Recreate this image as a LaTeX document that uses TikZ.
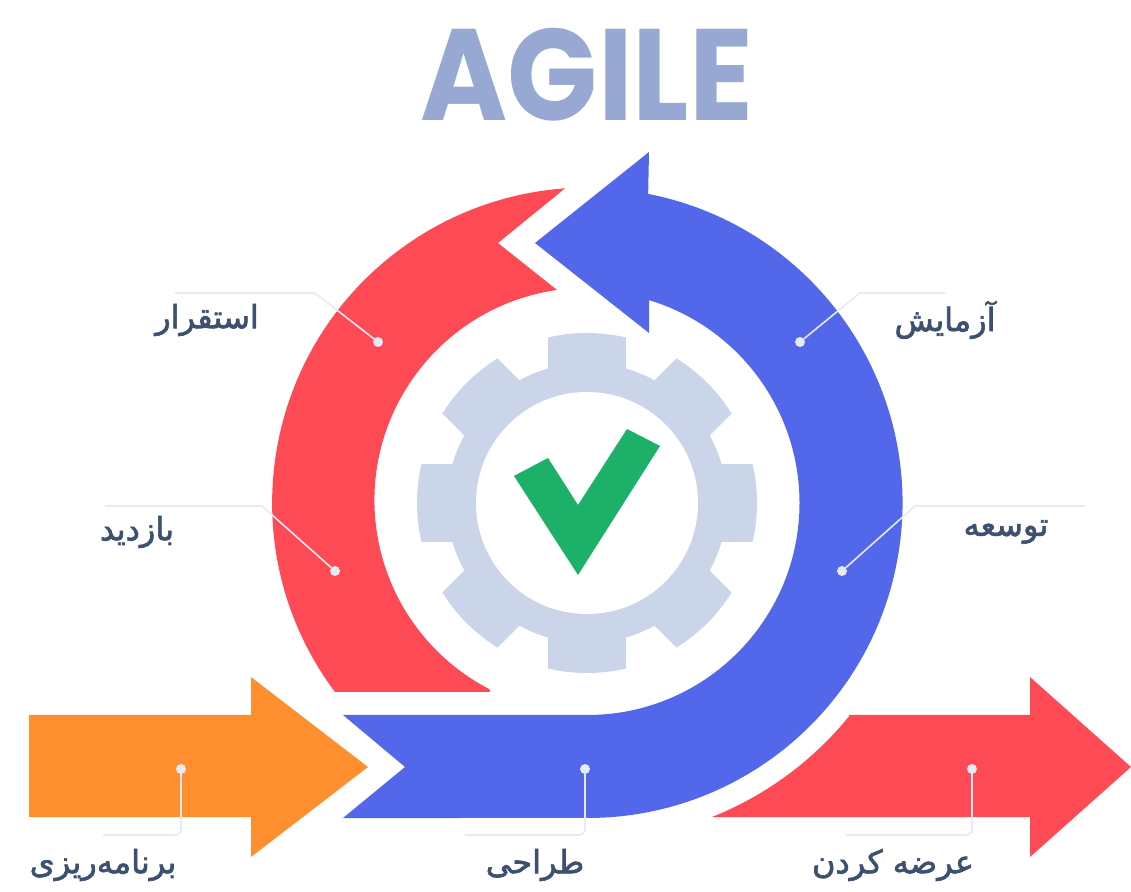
\documentclass[tikz,border=0pt]{standalone}
\usepackage{fontspec}
\newfontfamily\labelfont[Script=Arabic,FakeBold=2]{DejaVu Sans}
\newfontfamily\titlefont{Poppins}
\TeXXeTstate=1
\definecolor{loopred}{HTML}{FD4A55}
\definecolor{loopblue}{HTML}{5367EA}
\definecolor{startorange}{HTML}{FF8F2E}
\definecolor{gearblue}{HTML}{CBD5EA}
\definecolor{titleblue}{HTML}{97A8D2}
\definecolor{checkgreen}{HTML}{1DB068}
\definecolor{labelblue}{HTML}{3C5070}
\definecolor{leadergray}{HTML}{E6EAF4}
\tikzset{
	dot/.style={draw=none,circle,fill=leadergray,inner sep=0,outer sep=0,minimum size=10},
	leader/.style={draw=leadergray,line width=1.6},
	steplabel/.style={inner sep=0,text=labelblue,font=\labelfont\fontsize{32}{32}\selectfont},
}
\begin{document}
\begin{tikzpicture}[x=1pt,y=1pt]
	\useasboundingbox (0,0) rectangle (1131,891);
	\node[inner sep=0,text=titleblue,xscale=0.91,transform shape,font=\titlefont\bfseries\fontsize{130}{130}\selectfont] (title) at (587,816) {AGILE};
	\fill[startorange] (29,176) -- (251,176) -- (251,214) -- (368,124) -- (251,34) -- (251,74) -- (29,74) -- cycle;
	\fill[loopred] (849,176) -- (1030,176) -- (1030,214) -- (1131,124) -- (1030,34) -- (1030,74) -- (712,74) arc[start angle=-68.3,end angle=-39,radius=337] -- cycle;
	\fill[loopblue] (343,176) -- (587.5,176) arc[start angle=-90,end angle=73.1,radius=212] -- (649,558) -- (535,648) -- (649,739) -- (648.15,697.1) arc[start angle=78.9,end angle=-90,radius=315] -- (343,73) -- (405,124) -- cycle;
	\fill[loopred] (587.5,388) ++(242.7:212.5) -- (335,199) arc[start angle=216.8,end angle=94.1,radius=315.5] -- (498,648) -- (557,601) arc[start angle=98.1,end angle=242.7,radius=212.5] -- cycle;
	\begin{scope}
		\clip (587,388) circle (170);
		\foreach \ang in {0,45,...,135}
			\fill[gearblue,rotate around={\ang:(587,388)}] (548,210) rectangle (626,566);
	\end{scope}
	\fill[gearblue] (587,388) circle (140);
	\node[circle,fill=white,inner sep=0,minimum size=222] (hub) at (587,388) {};
	\fill[checkgreen] (627,462) -- (660,445) -- (578,316) -- (514,415) -- (548,433) -- (578,386) -- cycle;
	\node[dot] (1) at (378,549) {};
	\node[dot] (2) at (335,320) {};
	\node[dot] (3) at (800,549) {};
	\node[dot] (4) at (842,320) {};
	\node[dot] (5) at (181,122) {};
	\node[dot] (6) at (585,122) {};
	\node[dot] (7) at (972,122) {};
	\coordinate (b1) at (315,598);
	\coordinate (e1) at (175,598);
	\coordinate (b2) at (262,385);
	\coordinate (e2) at (105,385);
	\coordinate (b3) at (860,598);
	\coordinate (e3) at (945,598);
	\coordinate (b4) at (915,385);
	\coordinate (e4) at (1085,385);
	\coordinate (b5) at (181,56);
	\coordinate (e5) at (103,56);
	\coordinate (b6) at (585,56);
	\coordinate (e6) at (465,56);
	\coordinate (b7) at (972,56);
	\coordinate (e7) at (846,56);
	\draw[leader] (1) -- (b1) -- (e1);
	\draw[leader] (2) -- (b2) -- (e2);
	\draw[leader] (3) -- (b3) -- (e3);
	\draw[leader] (4) -- (b4) -- (e4);
	\draw[leader,rounded corners=6] (5) -- (b5) -- (e5);
	\draw[leader,rounded corners=6] (6) -- (b6) -- (e6);
	\draw[leader,rounded corners=6] (7) -- (b7) -- (e7);
	\node[steplabel] (l1) at (207,571) {\beginR استقرار\endR};
	\node[steplabel] (l2) at (137,359) {\beginR بازدید\endR};
	\node[steplabel] (l3) at (945,571) {\beginR آزمایش\endR};
	\node[steplabel] (l4) at (1006,359) {\beginR توسعه\endR};
	\node[steplabel] (l5) at (103,26) {\beginR برنامه‌ریزی\endR};
	\node[steplabel] (l6) at (535,26) {\beginR طراحی\endR};
	\node[steplabel] (l7) at (893,26) {\beginR عرضه کردن\endR};
\end{tikzpicture}
\end{document}
